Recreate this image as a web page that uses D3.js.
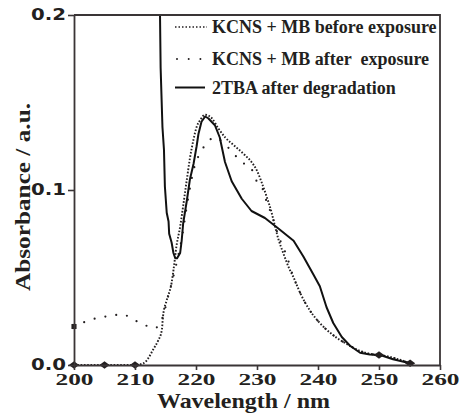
<!DOCTYPE html>
<html>
<head>
<meta charset="utf-8">
<script src="https://cdn.jsdelivr.net/npm/d3@7"></script>
<style>
  body { margin: 0; background: #fff; }
  svg { display: block; }
</style>
</head>
<body>
<div id="chart"></div>
<script>
// Spectra (wavelength in nm, absorbance in a.u.)
const beforeX = [200, 205, 210, 211.4, 212.2, 213.0, 213.8, 214.4, 214.6, 215.2, 216.0, 216.3, 216.8, 217.4, 217.9, 218.5, 219.0, 219.6, 220.1, 220.7, 221.5, 222.6, 223.7, 224.8, 226.4, 228.0, 229.1, 230.0, 230.8, 231.6, 232.4, 232.9, 233.5, 234.3, 235.3, 236.0, 237.1, 238.7, 240.3, 242.5, 244.7, 246.9, 249.1, 251.3, 253.4, 255.1];
const beforeY = [0, 0, 0, 0.001, 0.004, 0.009, 0.014, 0.020, 0.028, 0.037, 0.047, 0.054, 0.068, 0.079, 0.091, 0.106, 0.118, 0.129, 0.136, 0.140, 0.143, 0.141, 0.135, 0.130, 0.125, 0.120, 0.116, 0.111, 0.104, 0.096, 0.087, 0.080, 0.072, 0.064, 0.055, 0.050, 0.041, 0.031, 0.024, 0.017, 0.012, 0.008, 0.006, 0.005, 0.003, 0.001];

const afterX = [200, 202.1, 204.0, 205.9, 207.9, 209.7, 211.5, 213.2, 214.5, 215.5, 216.6, 217.7, 218.6, 219.8, 220.5, 221.6, 223.0, 224.8, 226.1, 227.5, 229.1, 229.8, 231.0, 231.6, 232.4, 233.5, 234.9, 236.0, 237.1, 238.7, 240.3, 242.5, 244.7, 246.9, 249.1, 251.3, 253.4, 255.1];
const afterY = [0.022, 0.025, 0.027, 0.028, 0.029, 0.026, 0.023, 0.021, 0.027, 0.040, 0.055, 0.073, 0.093, 0.114, 0.120, 0.126, 0.130, 0.126, 0.121, 0.116, 0.112, 0.106, 0.100, 0.093, 0.086, 0.074, 0.062, 0.050, 0.041, 0.031, 0.024, 0.017, 0.012, 0.008, 0.006, 0.005, 0.003, 0.001];

const tbaX = [214.0, 214.1, 214.2, 214.5, 214.75, 214.9, 215.2, 215.5, 215.6, 216.0, 216.3, 216.6, 216.9, 217.4, 217.65, 217.9, 218.5, 219.0, 219.6, 220.1, 220.4, 220.9, 221.5, 222.0, 223.1, 223.9, 224.75, 225.85, 227.5, 229.1, 231.3, 233.5, 236.0, 237.6, 239.2, 240.3, 241.4, 242.5, 243.9, 245.25, 246.9, 248.5, 250.2, 252.3, 255.1];
const tbaY = [0.23, 0.2, 0.17, 0.136, 0.123, 0.102, 0.087, 0.082, 0.075, 0.070, 0.064, 0.061, 0.061, 0.064, 0.071, 0.081, 0.094, 0.106, 0.115, 0.125, 0.132, 0.139, 0.142, 0.141, 0.137, 0.130, 0.116, 0.105, 0.095, 0.088, 0.084, 0.078, 0.071, 0.062, 0.052, 0.045, 0.033, 0.024, 0.016, 0.011, 0.007, 0.006, 0.0057, 0.0033, 0.001];

// stray point markers visible on the plot
const diamondX = [200, 205, 210, 250, 255.1];
const diamondY = [0, 0, 0, 0.0057, 0.001];
const squareX = [200];
const squareY = [0.022];

const xTicks = [200, 210, 220, 230, 240, 250, 260];
const yTicks = [0.0, 0.1, 0.2];
const legendLabels = ['KCNS + MB before exposure', 'KCNS + MB after  exposure', '2TBA after degradation'];

const width = 462, height = 414;
const margin = {top: 15, right: 22, bottom: 49, left: 74};
const ink = '#231f20';
const serif = '"Liberation Serif", "Times New Roman", serif';

const svg = d3.select('#chart').append('svg')
  .attr('width', width)
  .attr('height', height);

const x = d3.scaleLinear().domain([200, 260]).range([margin.left, width - margin.right]);
const y = d3.scaleLinear().domain([0, 0.2]).range([height - margin.bottom, margin.top]);

svg.append('clipPath').attr('id', 'plot-clip')
  .append('rect')
  .attr('x', x(200)).attr('y', y(0.2))
  .attr('width', x(260) - x(200)).attr('height', y(0) - y(0.2));

const toPoints = (xs, ys) => xs.map((v, i) => [v, ys[i]]);
const line = d3.line().x(d => x(d[0])).y(d => y(d[1])).curve(d3.curveMonotoneX);

const plot = svg.append('g').attr('clip-path', 'url(#plot-clip)');

plot.append('path')
  .datum(toPoints(beforeX, beforeY))
  .attr('fill', 'none')
  .attr('stroke', ink)
  .attr('stroke-width', 1.9)
  .attr('stroke-dasharray', '1.6 1.7')
  .attr('d', line);

plot.append('path')
  .datum(toPoints(afterX, afterY))
  .attr('fill', 'none')
  .attr('stroke', ink)
  .attr('stroke-width', 2.2)
  .attr('stroke-linecap', 'round')
  .attr('stroke-dasharray', '0 11')
  .attr('d', line);

plot.append('path')
  .datum(toPoints(tbaX, tbaY))
  .attr('fill', 'none')
  .attr('stroke', '#111')
  .attr('stroke-width', 2)
  .attr('stroke-linejoin', 'round')
  .attr('d', d3.line().x(d => x(d[0])).y(d => y(d[1])));

svg.append('g').selectAll('path')
  .data(toPoints(diamondX, diamondY))
  .join('path')
  .attr('transform', d => 'translate(' + x(d[0]) + ',' + y(d[1]) + ') scale(1.4,1)')
  .attr('d', d3.symbol(d3.symbolDiamond2, 34))
  .attr('fill', ink);

svg.append('g').selectAll('path')
  .data(toPoints(squareX, squareY))
  .join('path')
  .attr('transform', d => 'translate(' + x(d[0]) + ',' + y(d[1]) + ')')
  .attr('d', d3.symbol(d3.symbolSquare, 26))
  .attr('fill', ink);

// frame: top and right edges
svg.append('path')
  .attr('d', 'M' + x(200) + ',' + y(0.2) + 'H' + x(260) + 'V' + y(0))
  .attr('fill', 'none')
  .attr('stroke', '#3a3536')
  .attr('stroke-width', 1.8);

const xAxis = svg.append('g')
  .attr('transform', 'translate(0,' + y(0) + ')')
  .call(d3.axisBottom(x).tickValues(xTicks).tickSize(5).tickSizeOuter(0).tickFormat(d3.format('d')));
xAxis.select('.domain').attr('stroke', '#3a3536').attr('stroke-width', 1.8);
xAxis.selectAll('.tick line').attr('stroke', '#3a3536').attr('stroke-width', 1.6);
xAxis.selectAll('.tick text')
  .attr('y', 8)
  .attr('fill', ink)
  .style('font-family', serif)
  .style('font-weight', 'bold')
  .style('font-size', '17px')
  .attr('textLength', 38)
  .attr('lengthAdjust', 'spacingAndGlyphs');

const yAxis = svg.append('g')
  .attr('transform', 'translate(' + x(200) + ',0)')
  .call(d3.axisLeft(y).tickValues(yTicks).tickSize(6).tickSizeOuter(0).tickFormat(d3.format('.1f')));
yAxis.select('.domain').attr('stroke', '#3a3536').attr('stroke-width', 1.8);
yAxis.selectAll('.tick line').attr('stroke', '#3a3536').attr('stroke-width', 1.6);
yAxis.selectAll('.tick text')
  .attr('x', -8)
  .attr('fill', ink)
  .style('font-family', '"DejaVu Sans", sans-serif')
  .style('font-weight', 'bold')
  .style('font-size', '15px')
  .attr('textLength', 35)
  .attr('lengthAdjust', 'spacingAndGlyphs');

svg.append('text')
  .attr('x', 243.5)
  .attr('y', 408)
  .attr('text-anchor', 'middle')
  .attr('fill', ink)
  .style('font-family', serif)
  .style('font-weight', 'bold')
  .style('font-size', '21px')
  .attr('textLength', 173)
  .attr('lengthAdjust', 'spacingAndGlyphs')
  .text('Wavelength / nm');

svg.append('text')
  .attr('transform', 'translate(30,197) rotate(-90)')
  .attr('text-anchor', 'middle')
  .attr('fill', ink)
  .style('font-family', serif)
  .style('font-weight', 'bold')
  .style('font-size', '21px')
  .attr('textLength', 188)
  .attr('lengthAdjust', 'spacingAndGlyphs')
  .text('Absorbance / a.u.');

// legend
const legendY = [27, 59, 87.5];
const legend = svg.append('g');
legend.append('line')
  .attr('x1', 175).attr('x2', 207).attr('y1', legendY[0]).attr('y2', legendY[0])
  .attr('stroke', ink).attr('stroke-width', 1.6).attr('stroke-dasharray', '1.5 2');
legend.append('line')
  .attr('x1', 177).attr('x2', 201).attr('y1', legendY[1]).attr('y2', legendY[1])
  .attr('stroke', ink).attr('stroke-width', 2).attr('stroke-linecap', 'round')
  .attr('stroke-dasharray', '0 11.7');
legend.append('line')
  .attr('x1', 175).attr('x2', 205).attr('y1', legendY[2]).attr('y2', legendY[2])
  .attr('stroke', '#111').attr('stroke-width', 2);

legend.selectAll('text')
  .data(legendLabels)
  .join('text')
  .attr('x', 212)
  .attr('y', (d, i) => legendY[i] + 6)
  .attr('fill', ink)
  .style('font-family', serif)
  .style('font-weight', 'bold')
  .style('font-size', '18px')
  .style('white-space', 'pre')
  .text(d => d);
</script>
</body>
</html>
